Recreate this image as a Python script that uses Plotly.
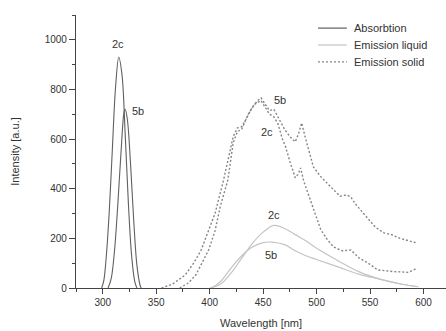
import plotly.graph_objects as go

# Absorption
abs_2c_x = [299, 301, 303, 306, 309, 312, 315, 318, 321, 324, 327, 330, 332]
abs_2c_y = [0, 30, 110, 300, 560, 810, 930, 860, 620, 340, 130, 25, 0]
abs_5b_x = [305, 308, 311, 314, 317, 320, 321, 323, 326, 329, 332, 335, 336]
abs_5b_y = [0, 40, 150, 330, 540, 710, 720, 680, 500, 270, 90, 10, 0]

# Emission liquid
liq_2c_x = [400, 410, 420, 430, 440, 450, 460, 470, 480, 490, 500, 520, 540, 560, 580, 595]
liq_2c_y = [0, 15, 60, 120, 180, 225, 252, 240, 215, 190, 160, 110, 65, 35, 15, 5]
liq_5b_x = [402, 410, 420, 430, 440, 450, 458, 470, 480, 490, 500, 520, 540, 560, 580, 595]
liq_5b_y = [0, 25, 80, 130, 165, 183, 185, 175, 150, 130, 115, 85, 55, 35, 15, 5]

# Emission solid
sol_5b_x = [355, 365, 377, 385, 392, 400, 405, 413, 418, 422, 426, 430, 434, 440, 445, 448,
            452, 456, 460, 464, 470, 475, 480, 483, 486, 490, 497, 504, 510, 516, 522, 528,
            532, 536, 541, 548, 555, 563, 570, 578, 586, 594]
sol_5b_y = [0, 15, 52, 100, 153, 240, 300, 435, 530, 610, 645, 650, 680, 730, 755, 766,
            740, 715, 720, 690, 640, 610, 589, 620, 665, 597, 488, 448, 420, 395, 370, 375,
            367, 340, 315, 280, 245, 222, 215, 200, 190, 181]
sol_2c_x = [372, 380, 387, 393, 399, 405, 410, 417, 422, 426, 430, 436, 442, 448, 452, 456,
            460, 464, 468, 471, 475, 480, 483, 485, 488, 494, 500, 504, 510, 516, 524, 532,
            540, 548, 557, 565, 572, 578, 586, 594]
sol_2c_y = [0, 20, 52, 100, 153, 230, 330, 435, 585, 630, 640, 700, 740, 755, 730, 700,
            690, 660, 600, 569, 510, 444, 460, 484, 430, 355, 280, 234, 195, 165, 150, 153,
            120, 101, 73, 68, 66, 65, 63, 80]

# Labels
lab_text = ["2c", "5b", "5b", "2c", "2c", "5b"]
lab_x = [314, 333, 466, 454, 460, 457]
lab_y = [985, 715, 758, 630, 294, 133]

legend_names = ["Absorbtion", "Emission liquid", "Emission solid"]

C_ABS = "#606060"
C_LIQ = "#c4c4c4"
C_SOL = "#858585"
SOL_DASH = "2px,2px"

fig = go.Figure()
fig.add_trace(go.Scatter(x=abs_2c_x, y=abs_2c_y, mode="lines",
                         line=dict(color=C_ABS, width=1.1, shape="spline")))
fig.add_trace(go.Scatter(x=abs_5b_x, y=abs_5b_y, mode="lines",
                         line=dict(color=C_ABS, width=1.1, shape="spline")))
fig.add_trace(go.Scatter(x=liq_2c_x, y=liq_2c_y, mode="lines",
                         line=dict(color=C_LIQ, width=1.2, shape="spline")))
fig.add_trace(go.Scatter(x=liq_5b_x, y=liq_5b_y, mode="lines",
                         line=dict(color=C_LIQ, width=1.2, shape="spline")))
fig.add_trace(go.Scatter(x=sol_5b_x, y=sol_5b_y, mode="lines",
                         line=dict(color=C_SOL, width=1.4, dash=SOL_DASH)))
fig.add_trace(go.Scatter(x=sol_2c_x, y=sol_2c_y, mode="lines",
                         line=dict(color=C_SOL, width=1.4, dash=SOL_DASH)))

for t, x, y in zip(lab_text, lab_x, lab_y):
    fig.add_annotation(x=x, y=y, text=t, showarrow=False,
                       font=dict(family="Liberation Sans, Arial", size=11, color="#333333"))

# manual legend (paper coordinates)
leg_colors = [C_ABS, C_LIQ, C_SOL]
leg_dash = ["solid", "solid", SOL_DASH]
leg_ys = [0.952, 0.890, 0.828]
for name, col, dsh, yy in zip(legend_names, leg_colors, leg_dash, leg_ys):
    fig.add_shape(type="line", xref="paper", yref="paper", x0=0.654, x1=0.732, y0=yy, y1=yy,
                  line=dict(color=col, width=1.2, dash=dsh))
    fig.add_annotation(xref="paper", yref="paper", x=0.747, y=yy, text=name, showarrow=False,
                       xanchor="left", yanchor="middle",
                       font=dict(family="Liberation Sans, Arial", size=11, color="#333333"))

fig.update_layout(
    width=446, height=331,
    margin=dict(l=76, r=0, t=15, b=43),
    paper_bgcolor="white", plot_bgcolor="white",
    font=dict(family="Liberation Sans, Arial", size=10, color="#333333"),
    showlegend=False,
)
fig.update_xaxes(range=[275, 621], showgrid=False, zeroline=False, automargin=False,
                 showline=True, linecolor="#444444", linewidth=1.2,
                 ticks="outside", ticklen=5, tickcolor="#444444",
                 tickvals=[300, 350, 400, 450, 500, 550, 600],
                 minor=dict(ticks="outside", ticklen=3, dtick=25, tick0=275, tickcolor="#444444"),
                 title=dict(text="Wavelength [nm]", font=dict(size=11), standoff=12))
fig.update_yaxes(range=[0, 1100], showgrid=False, zeroline=False, automargin=False,
                 showline=True, linecolor="#444444", linewidth=1.2,
                 ticks="outside", ticklen=6, tickcolor="#444444",
                 tickvals=[0, 200, 400, 600, 800, 1000],
                 minor=dict(ticks="outside", ticklen=3, dtick=100, tickcolor="#444444"),
                 title=dict(text="Intensity [a.u.]", font=dict(size=11), standoff=22))

fig.write_html("out.html", config={"displayModeBar": False},
               post_script="document.body.style.margin='0';")
